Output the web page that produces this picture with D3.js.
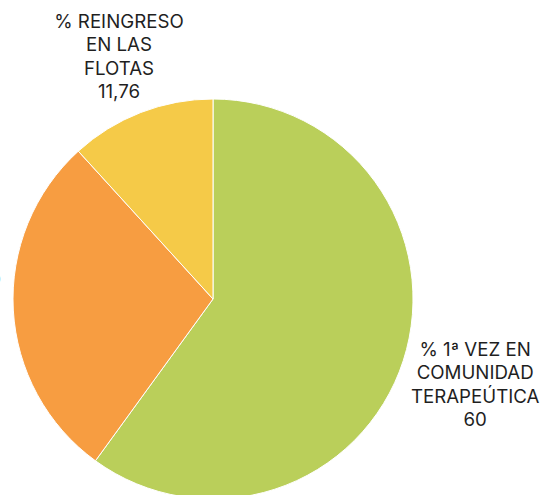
<!DOCTYPE html>
<html><head><meta charset="utf-8">
<script src="https://cdn.jsdelivr.net/npm/d3@7"></script>
<style>html,body{margin:0;padding:0;background:#fff;overflow:hidden}</style>
</head><body>
<svg id="chart" width="544" height="495"></svg>
<script>
const categories = ["% 1ª VEZ EN COMUNIDAD TERAPEÚTICA", "% REINGRESO EN COMUNIDAD", "% REINGRESO EN LAS FLOTAS"];
const values = [60, 28.24, 11.76];
const valueLabels = ["60", "28,24", "11,76"];
const colors = ["#bacf5a", "#f79d41", "#f5ca48"];

const svg = d3.select("#chart");
const cx = 213, cy = 299, R = 200, fs = 18.7, lineH = 23.5, wrapW = 130;
const g = svg.append("g").attr("transform", `translate(${cx},${cy})`);
const pie = d3.pie().sort(null).value(d => d.v);
const data = pie(values.map((v, i) => ({v, i})));
const arc = d3.arc().innerRadius(0).outerRadius(R);

g.selectAll("path").data(data).join("path")
  .attr("d", arc).attr("fill", d => colors[d.data.i])
  .attr("stroke", "#fff").attr("stroke-width", 1);

const measure = svg.append("text").attr("font-family", "Inter").attr("font-size", fs).attr("visibility", "hidden");
function width(s){ measure.text(s); return measure.node().getComputedTextLength(); }
function wrap(s){
  const words = s.split(" "); const lines = []; let cur = "";
  for (const w of words){
    const t = cur ? cur + " " + w : w;
    if (cur && width(t) > wrapW){ lines.push(cur); cur = w; } else cur = t;
  }
  if (cur) lines.push(cur);
  return lines;
}

data.forEach(d => {
  const i = d.data.i;
  const lines = wrap(categories[i]).concat([valueLabels[i]]);
  const mid = (d.startAngle + d.endAngle) / 2;
  const ux = Math.sin(mid), uy = -Math.cos(mid);
  const a = d3.max(lines, width) / 2;
  const b = ((lines.length - 1) * lineH + 0.73 * fs) / 2;
  const extra = 7.5 * Math.pow(Math.max(0, -ux), 8);
  const D = R + 1 + 1.03 * Math.abs(ux) * a + 0.9 * Math.abs(uy) * b + extra;
  const x = ux * D, y = uy * D;
  const t = g.append("text").attr("font-family", "Inter").attr("font-size", fs)
    .attr("fill", "#1f1f1f").attr("text-anchor", "middle");
  const y0 = y - (lines.length - 1) * lineH / 2;
  lines.forEach((l, k) => t.append("tspan").attr("x", x).attr("y", y0 + k * lineH).attr("dy", "0.36em").text(l));
});
measure.remove();
</script>
</body></html>
